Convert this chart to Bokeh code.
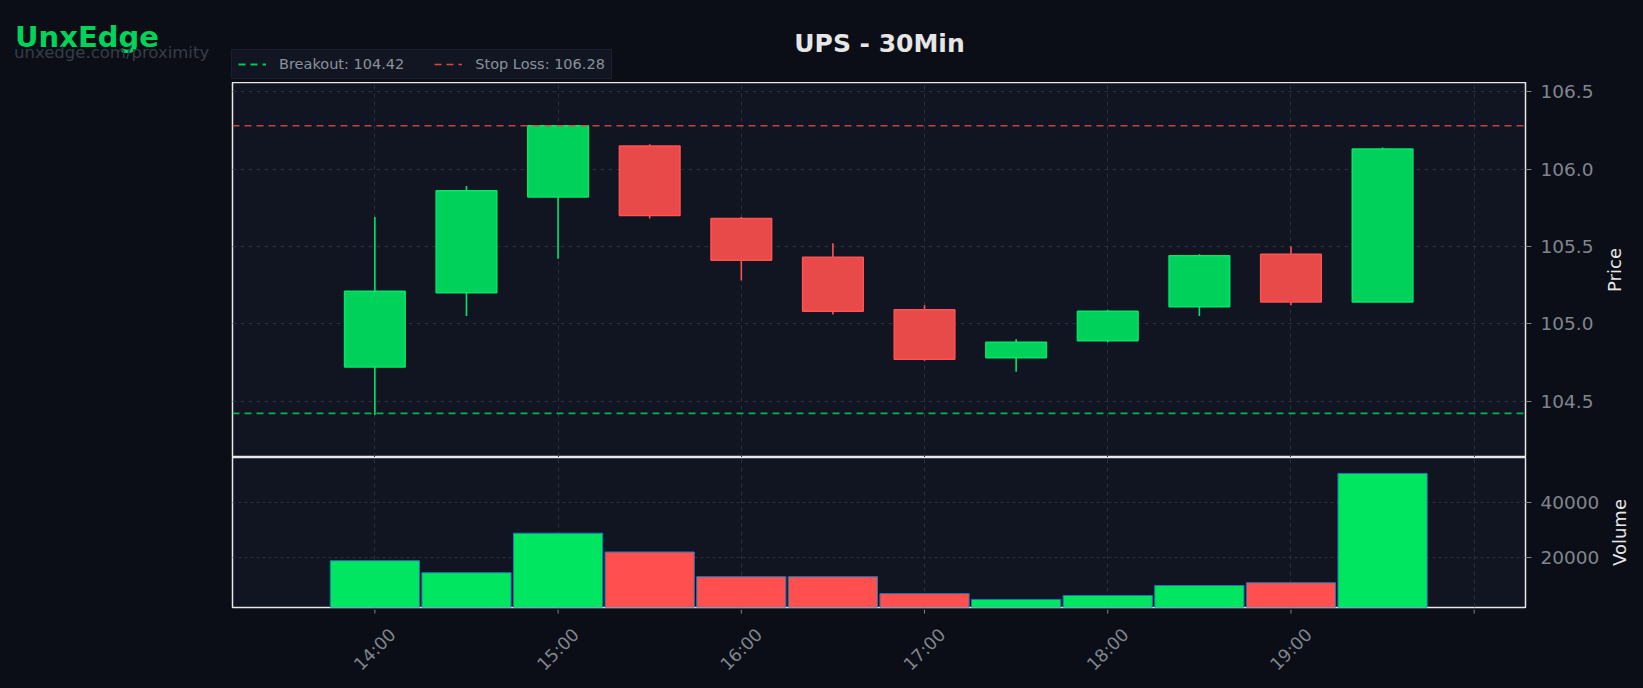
import math
from bokeh.plotting import figure
from bokeh.layouts import column, row
from bokeh.models import (Range1d, FixedTicker, Label, Legend, LegendItem, ColumnDataSource,
                          PrintfTickFormatter)
from bokeh.embed import file_html
from bokeh.resources import INLINE

# ---------------- data ----------------
times = ["14:00", "14:30", "15:00", "15:30", "16:00", "16:30",
         "17:00", "17:30", "18:00", "18:30", "19:00", "19:30"]
opens = [104.72, 105.20, 105.82, 106.15, 105.68, 105.43,
         105.09, 104.78, 104.89, 105.11, 105.45, 105.14]
highs = [105.69, 105.89, 106.28, 106.16, 105.69, 105.52,
         105.12, 104.90, 105.09, 105.45, 105.50, 106.14]
lows = [104.41, 105.05, 105.42, 105.68, 105.28, 105.06,
        104.76, 104.69, 104.88, 105.05, 105.12, 105.14]
closes = [105.21, 105.86, 106.28, 105.70, 105.41, 105.08,
          104.77, 104.88, 105.08, 105.44, 105.14, 106.13]
volumes = [18700, 14300, 28800, 21900, 12850, 12850,
           6650, 4500, 5950, 9600, 10650, 50700]
breakout = 104.42
stop_loss = 106.28
hour_ticks = [14, 15, 16, 17, 18, 19, 20]
hour_labels = ["14:00", "15:00", "16:00", "17:00", "18:00", "19:00", ""]
price_ticks = [104.5, 105.0, 105.5, 106.0, 106.5]
volume_ticks = [20000, 40000]
axis_titles = ["Price", "Volume"]

# ---------------- styling ----------------
PAGE_BG = "#0b0e16"
PLOT_BG = "#111521"
GRID = "#2a2f3c"
TICK_TXT = "#80868f"
LABEL_TXT = "#e6e6e6"
OUTLINE = "#e8e8e8"
FONT = "DejaVu Sans"
UP_FILL, UP_EDGE = "#00d15a", "#00e66b"
DN_FILL, DN_EDGE = "#e84a4a", "#ff5252"
VUP, VDN = "#00e660", "#ff4f4f"
BO_COL, SL_COL = "#00c853", "#d94848"

x = [int(t.split(":")[0]) + int(t.split(":")[1]) / 60 for t in times]
up = [c >= o for o, c in zip(opens, closes)]
src = ColumnDataSource(dict(
    x=x,
    top=[max(o, c) for o, c in zip(opens, closes)],
    bottom=[min(o, c) for o, c in zip(opens, closes)],
    high=highs, low=lows,
    fill=[UP_FILL if u else DN_FILL for u in up],
    edge=[UP_EDGE if u else DN_EDGE for u in up],
    vol=volumes,
    vcol=[VUP if u else VDN for u in up],
))

xr = Range1d(13.223, 20.28)
W_ALL = 1635
W = 1602             # width of the chart column; the axis-title strip fills the rest
LEFT, RIGHT = 232, W - 1527
HEAD_H = 82          # page rows 0..82
PRICE_H = 457 - HEAD_H
VOL_FRAME = 150      # page rows 457..607
VOL_BOTTOM = 2
LAB_TOP = 457 + VOL_FRAME + VOL_BOTTOM
LAB_H = 680 - LAB_TOP
FRAME_BOTTOM = 457 + VOL_FRAME
TICK_LEN = 6
LABEL_Y = 649        # page row of the centre of the time labels
TITLE_X = [1613.6, 1618.5]
TITLE_Y = [(HEAD_H + 457) / 2, (457 + FRAME_BOTTOM) / 2]

def style(p):
    p.background_fill_color = PLOT_BG
    p.border_fill_color = PAGE_BG
    p.outline_line_color = OUTLINE
    p.outline_line_width = 1.5
    p.xgrid.grid_line_color = GRID
    p.xgrid.grid_line_dash = "4 4"
    p.ygrid.grid_line_color = GRID
    p.ygrid.grid_line_dash = "4 4"
    p.xgrid.ticker = FixedTicker(ticks=hour_ticks)

def style_axis(ax):
    ax.major_label_text_color = TICK_TXT
    ax.major_label_text_font = FONT
    ax.major_label_text_font_size = "18.5px"
    ax.axis_line_color = None
    ax.major_tick_line_color = TICK_TXT
    ax.major_tick_out = TICK_LEN
    ax.major_tick_in = 0
    ax.minor_tick_line_color = None
    ax.major_label_standoff = 9

def bare(f):
    f.background_fill_color = PAGE_BG
    f.border_fill_color = PAGE_BG
    f.outline_line_color = None
    f.xgrid.visible = False
    f.ygrid.visible = False

# ---------------- header (title, brand, legend) ----------------
h = figure(width=W_ALL, height=HEAD_H, x_range=Range1d(0, W_ALL), y_range=Range1d(HEAD_H, 0),
           output_backend="svg", toolbar_location=None,
           min_border_left=0, min_border_right=0, min_border_top=0, min_border_bottom=0,
           x_axis_location=None, y_axis_location=None)
bare(h)

h.add_layout(Label(x=14.5, y=36.7, text="UnxEdge", text_color="#00d35a", text_font=FONT,
                   text_font_size="29px", text_font_style="bold", text_baseline="alphabetic"))
h.add_layout(Label(x=13.5, y=51.7, text="unxedge.com/proximity", text_color="#373d49",
                   text_font=FONT, text_font_size="16.5px", text_baseline="alphabetic"))
h.add_layout(Label(x=879, y=43, text="UPS - 30Min", text_align="center", text_baseline="middle",
                   text_color="#e6e6e6", text_font=FONT,
                   text_font_size="25px", text_font_style="bold"))

# legend samples (their data lie outside this strip's range, only the legend shows them)
bl = h.line(x=[xr.start, xr.end], y=[breakout, breakout], line_color=BO_COL,
            line_dash="7 5", line_width=1.8)
sl = h.line(x=[xr.start, xr.end], y=[stop_loss, stop_loss], line_color=SL_COL,
            line_dash="7 5", line_width=1.6)
legend = Legend(items=[LegendItem(label=f"Breakout: {breakout:.2f}", renderers=[bl]),
                       LegendItem(label=f"Stop Loss: {stop_loss:.2f}", renderers=[sl])],
                orientation="horizontal", location=(231, HEAD_H - 79),
                background_fill_color="#111622", background_fill_alpha=1.0,
                border_line_color="#232936", border_line_width=1,
                label_text_color="#8b919c", label_text_font=FONT, label_text_font_size="14.5px",
                glyph_width=28, glyph_height=14, spacing=30, padding=6, margin=0,
                label_standoff=13)
h.add_layout(legend)

# ---------------- price panel ----------------
p = figure(width=W, height=PRICE_H, x_range=xr, y_range=Range1d(104.135, 106.56),
           output_backend="svg", toolbar_location=None,
           min_border_left=LEFT, min_border_right=RIGHT, min_border_top=0, min_border_bottom=0,
           y_axis_location="right", x_axis_location=None)
style(p)
p.yaxis.ticker = FixedTicker(ticks=price_ticks)
p.yaxis.formatter = PrintfTickFormatter(format="%.1f")
style_axis(p.yaxis[0])

p.segment(x0="x", x1="x", y0="low", y1="high", source=src, line_color="edge", line_width=1.6)
p.vbar(x="x", width=0.331, top="top", bottom="bottom", source=src,
       fill_color="fill", line_color="edge", line_width=1.5)
p.line([xr.start, xr.end], [breakout, breakout], line_color=BO_COL,
       line_dash="7 5", line_width=1.8, alpha=0.9)
p.line([xr.start, xr.end], [stop_loss, stop_loss], line_color=SL_COL,
       line_dash="7 5", line_width=1.5, alpha=0.9)

# ---------------- volume panel ----------------
v = figure(width=W, height=VOL_FRAME + VOL_BOTTOM, x_range=xr, y_range=Range1d(1540, 56540),
           output_backend="svg", toolbar_location=None,
           min_border_left=LEFT, min_border_right=RIGHT, min_border_top=0,
           min_border_bottom=VOL_BOTTOM, y_axis_location="right", x_axis_location=None)
style(v)
v.ygrid.grid_line_dash = "3 3"
v.yaxis.ticker = FixedTicker(ticks=volume_ticks)
v.yaxis.formatter = PrintfTickFormatter(format="%d")
style_axis(v.yaxis[0])
v.vbar(x="x", width=0.487, top="vol", bottom=0, source=src,
       fill_color="vcol", line_color="#1f77b4", line_width=1)

# ---------------- time axis strip (ticks + rotated labels centred on the ticks) ----------------
lab = figure(width=W, height=LAB_H, x_range=xr, y_range=Range1d(680, LAB_TOP),
             output_backend="svg", toolbar_location=None,
             min_border_left=LEFT, min_border_right=RIGHT, min_border_top=0, min_border_bottom=0,
             x_axis_location=None, y_axis_location=None)
bare(lab)
lab.segment(x0=hour_ticks, x1=hour_ticks, y0=[LAB_TOP] * len(hour_ticks),
            y1=[FRAME_BOTTOM + TICK_LEN] * len(hour_ticks), line_color=TICK_TXT, line_width=1)
lab.text(x=hour_ticks[:-1], y=[LABEL_Y] * (len(hour_ticks) - 1), text=hour_labels[:-1],
         angle=math.pi / 4, text_align="center", text_baseline="middle", text_color=TICK_TXT,
         text_font={"value": FONT}, text_font_size="17.5px")

# ---------------- axis-title strip on the right ----------------
ttl = figure(width=W_ALL - W, height=680 - HEAD_H, x_range=Range1d(W, W_ALL),
             y_range=Range1d(680, HEAD_H), output_backend="svg", toolbar_location=None,
             min_border_left=0, min_border_right=0, min_border_top=0, min_border_bottom=0,
             x_axis_location=None, y_axis_location=None)
bare(ttl)
ttl.text(x=TITLE_X, y=TITLE_Y, text=axis_titles, angle=math.pi / 2,
         text_align="center", text_baseline="middle", text_color=LABEL_TXT,
         text_font={"value": FONT}, text_font_size="18px")

layout = row(column(p, v, lab, spacing=0), ttl, spacing=0,
             styles={"background-color": PAGE_BG})
html = file_html([h, layout], INLINE, title="UPS - 30Min")
html = html.replace("<body>", f'<body style="background-color:{PAGE_BG};">')
open("out.html", "w").write(html)
